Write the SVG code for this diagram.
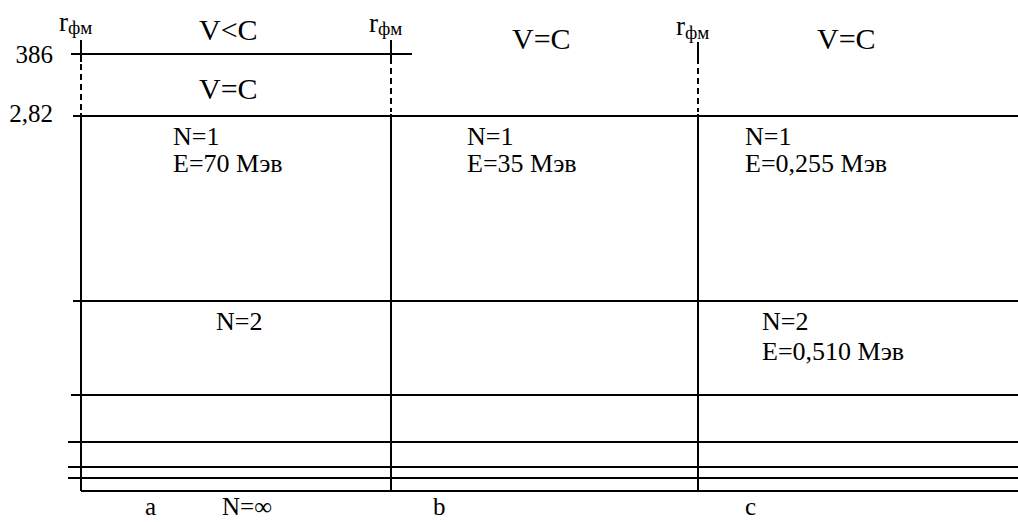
<svg xmlns="http://www.w3.org/2000/svg" width="1018" height="522" viewBox="0 0 1018 522">
<style>
.ln{stroke:#000;stroke-width:2;fill:none}
.ds{stroke:#000;stroke-width:2;fill:none;stroke-dasharray:6,4}
</style>
<rect width="1018" height="522" fill="#fff"/>
<g id="connectors">
<line class="ln" x1="71" y1="54" x2="412" y2="54"/>
<line class="ln" x1="73" y1="116" x2="1018" y2="116"/>
<line class="ln" x1="73" y1="301" x2="1018" y2="301"/>
<line class="ln" x1="71" y1="395" x2="1018" y2="395"/>
<line class="ln" x1="68" y1="442" x2="1018" y2="442"/>
<line class="ln" x1="68" y1="467" x2="1018" y2="467"/>
<line class="ln" x1="68" y1="478" x2="1018" y2="478"/>
<line class="ln" x1="81" y1="491" x2="1018" y2="491"/>
<line class="ln" x1="81" y1="40" x2="81" y2="62"/>
<line class="ds" x1="81" y1="64" x2="81" y2="110"/>
<line class="ln" x1="81" y1="113" x2="81" y2="491"/>
<line class="ln" x1="391" y1="40" x2="391" y2="64"/>
<line class="ds" x1="391" y1="68" x2="391" y2="112"/>
<line class="ln" x1="391" y1="114" x2="391" y2="491"/>
<line class="ln" x1="698" y1="42" x2="698" y2="64"/>
<line class="ds" x1="698" y1="68" x2="698" y2="112"/>
<line class="ln" x1="698" y1="114" x2="698" y2="491"/>
</g>
<g font-family="Liberation Serif" fill="#000">
<g id="axis-labels" font-size="25">
<text x="53" y="63" text-anchor="end">386</text>
<text x="53" y="122" text-anchor="end">2,82</text>
</g>
<g id="r-labels" font-size="27">
<text x="59" y="31">r<tspan font-size="19" dy="3">фм</tspan></text>
<text x="369" y="32">r<tspan font-size="19" dy="3">фм</tspan></text>
<text x="676" y="35">r<tspan font-size="19" dy="4">фм</tspan></text>
</g>
<g id="node-a" font-size="26">
<text font-size="30" x="199" y="40">V&lt;C</text>
<text font-size="30" x="199" y="99">V=C</text>
<text x="173" y="145">N=1</text>
<text x="173" y="172">E=70 Мэв</text>
<text x="216" y="330">N=2</text>
<text font-size="25" x="145" y="515">a</text>
<text font-size="25" x="222" y="515">N=∞</text>
</g>
<g id="node-b" font-size="26">
<text font-size="30" x="512" y="49">V=C</text>
<text x="467" y="145">N=1</text>
<text x="467" y="172">E=35 Мэв</text>
<text font-size="25" x="433" y="515">b</text>
</g>
<g id="node-c" font-size="26">
<text font-size="30" x="817" y="49">V=C</text>
<text x="745" y="145">N=1</text>
<text x="745" y="172">E=0,255 Мэв</text>
<text x="762" y="330">N=2</text>
<text x="762" y="360">E=0,510 Мэв</text>
<text font-size="25" x="745" y="515">c</text>
</g>
</g>
</svg>
